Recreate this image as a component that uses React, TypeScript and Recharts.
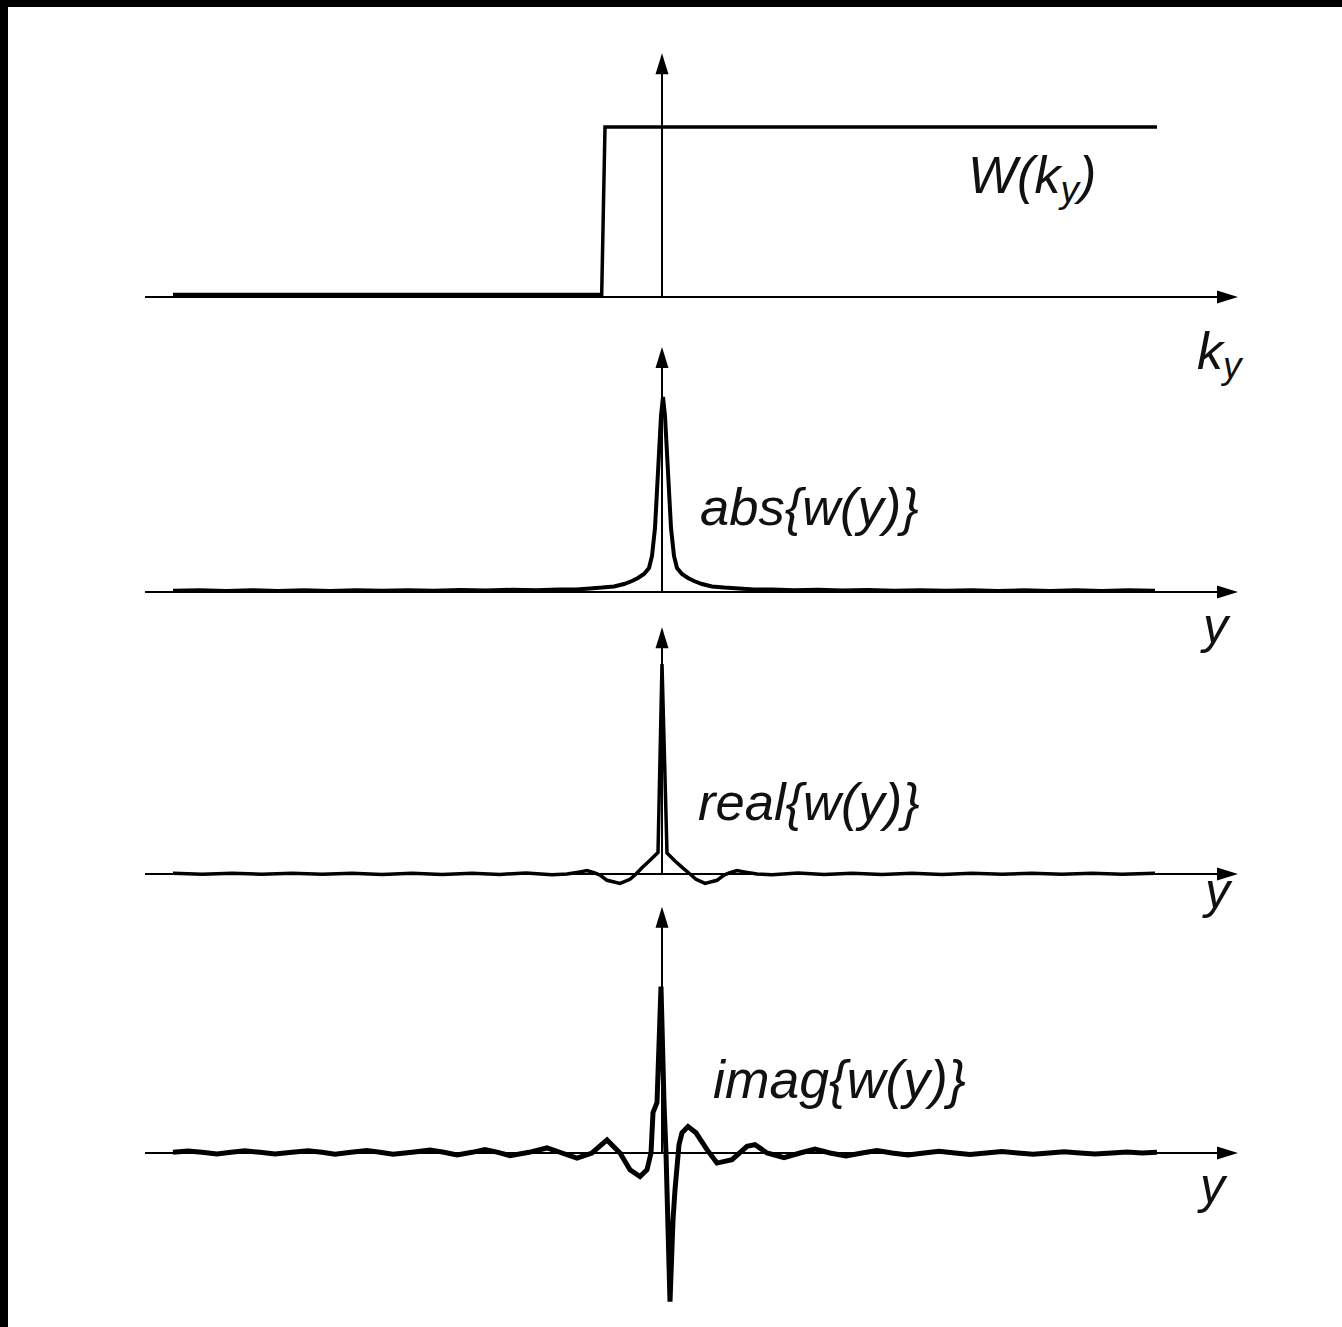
import { Line, LineChart, ReferenceLine, XAxis, YAxis } from "recharts";

// shared horizontal range (1 unit = 100 px on screen)
const X_DOMAIN: [number, number] = [-5.17, 5.76];

// W(ky): one-sided k-space window
const W_KY: [number, number][] = [
  [-4.89, 0.015], [-0.603, 0.015], [-0.57, 1.0], [4.95, 1.0],
];

// abs{w(y)}
const ABS_W: [number, number][] = [
  [-4.89, 0.006], [-4.62, 0.009], [-4.36, 0.005], [-4.1, 0.009], [-3.84, 0.005],
  [-3.58, 0.009], [-3.32, 0.005], [-3.06, 0.009], [-2.8, 0.006], [-2.54, 0.009],
  [-2.28, 0.006], [-2.02, 0.01], [-1.76, 0.007], [-1.5, 0.011], [-1.26, 0.009],
  [-1.04, 0.013], [-0.86, 0.013], [-0.72, 0.018], [-0.6, 0.022], [-0.48, 0.028],
  [-0.38, 0.04], [-0.3, 0.055], [-0.24, 0.07], [-0.18, 0.09], [-0.13, 0.12],
  [-0.1, 0.18], [-0.07, 0.32], [-0.04, 0.6], [-0.01, 0.88], [0.01, 0.975],
  [0.03, 0.88], [0.06, 0.6], [0.09, 0.32], [0.12, 0.18], [0.15, 0.12],
  [0.2, 0.09], [0.26, 0.07], [0.32, 0.055], [0.4, 0.04], [0.5, 0.028],
  [0.62, 0.022], [0.77, 0.018], [0.92, 0.013], [1.1, 0.013], [1.32, 0.009],
  [1.56, 0.011], [1.8, 0.007], [2.06, 0.01], [2.32, 0.006], [2.58, 0.009],
  [2.84, 0.006], [3.1, 0.009], [3.36, 0.005], [3.62, 0.009], [3.88, 0.005],
  [4.14, 0.009], [4.4, 0.005], [4.66, 0.009], [4.93, 0.006],
];

// real{w(y)}
const REAL_W: [number, number][] = [
  [-4.89, 0.003], [-4.6, -0.001], [-4.3, 0.003], [-4.0, -0.001], [-3.7, 0.003],
  [-3.4, -0.001], [-3.1, 0.003], [-2.8, -0.002], [-2.5, 0.003], [-2.2, -0.002],
  [-1.9, 0.004], [-1.62, -0.002], [-1.36, 0.005], [-1.1, -0.003], [-0.95, 0.0],
  [-0.82, 0.01], [-0.75, 0.016], [-0.68, 0.006], [-0.62, -0.005], [-0.55, -0.03],
  [-0.42, -0.045], [-0.32, -0.025], [-0.26, 0.0], [-0.2, 0.03], [-0.12, 0.065],
  [-0.04, 0.102], [0.0, 1.0], [0.05, 0.1], [0.13, 0.062], [0.21, 0.028],
  [0.28, 0.0], [0.34, -0.025], [0.43, -0.045], [0.55, -0.03], [0.62, -0.005],
  [0.68, 0.006], [0.75, 0.016], [0.82, 0.01], [0.95, 0.0], [1.1, -0.003],
  [1.36, 0.005], [1.62, -0.002], [1.9, 0.004], [2.2, -0.002], [2.5, 0.003],
  [2.8, -0.002], [3.1, 0.003], [3.4, -0.001], [3.7, 0.003], [4.0, -0.001],
  [4.3, 0.003], [4.6, -0.001], [4.93, 0.003],
];

// imag{w(y)}
const IMAG_W: [number, number][] = [
  [-4.89, 0.004], [-4.74, 0.012], [-4.6, 0.004], [-4.45, -0.006], [-4.31, 0.004],
  [-4.17, 0.013], [-4.02, 0.004], [-3.87, -0.006], [-3.7, 0.004], [-3.54, 0.014],
  [-3.4, 0.004], [-3.27, -0.007], [-3.11, 0.004], [-2.95, 0.015], [-2.82, 0.004],
  [-2.69, -0.008], [-2.5, 0.004], [-2.32, 0.017], [-2.18, 0.004], [-2.05, -0.011],
  [-1.9, 0.004], [-1.77, 0.021], [-1.64, 0.004], [-1.52, -0.016], [-1.33, 0.004],
  [-1.15, 0.03], [-1.0, 0.0], [-0.85, -0.03], [-0.7, 0.0], [-0.55, 0.078],
  [-0.42, 0.0], [-0.32, -0.1], [-0.22, -0.14], [-0.15, -0.1], [-0.11, 0.0],
  [-0.09, 0.24], [-0.05, 0.3], [-0.01, 0.99], [0.02, 0.3], [0.04, 0.0],
  [0.08, -0.885], [0.11, -0.4], [0.13, -0.22], [0.17, 0.05], [0.2, 0.12],
  [0.26, 0.157], [0.34, 0.12], [0.45, 0.02], [0.55, -0.06], [0.7, -0.04],
  [0.85, 0.04], [0.93, 0.05], [1.05, 0.0], [1.22, -0.028], [1.38, 0.0],
  [1.53, 0.023], [1.68, 0.0], [1.84, -0.018], [2.0, 0.0], [2.15, 0.015],
  [2.3, 0.0], [2.46, -0.012], [2.62, 0.0], [2.77, 0.011], [2.93, 0.0],
  [3.08, -0.009], [3.24, 0.0], [3.4, 0.009], [3.56, 0.0], [3.71, -0.008],
  [3.87, 0.0], [4.02, 0.008], [4.18, 0.0], [4.33, -0.006], [4.5, 0.0],
  [4.65, 0.006], [4.8, 0.0], [4.95, 0.004],
];

const INK = "#000";
const FONT = "'Liberation Sans', Arial, Helvetica, sans-serif";

function ArrowAxis(p: any) {
  const { x1, y1, x2, y2 } = p;
  const dx = x2 - x1;
  const dy = y2 - y1;
  const len = Math.hypot(dx, dy) || 1;
  const ux = dx / len;
  const uy = dy / len;
  const L = 21;
  const H = 6.5;
  const bx = x2 - ux * L;
  const by = y2 - uy * L;
  const px = -uy;
  const py = ux;
  return (
    <g>
      <line x1={x1} y1={y1} x2={bx + ux * 2} y2={by + uy * 2} stroke={INK} strokeWidth={2} />
      <polygon
        points={`${x2},${y2} ${bx + px * H},${by + py * H} ${bx - px * H},${by - py * H}`}
        fill={INK}
      />
    </g>
  );
}

function Panel({
  top,
  height,
  yDomain,
  tip,
  points,
  strokeWidth,
}: {
  top: number;
  height: number;
  yDomain: [number, number];
  tip: number;
  points: [number, number][];
  strokeWidth: number;
}) {
  const rows = points.map(([x, v]) => ({ x, v }));
  return (
    <div style={{ position: "absolute", left: 0, top }}>
      <LineChart
        width={1342}
        height={height}
        margin={{ top: 0, right: 104, bottom: 0, left: 145 }}
        style={{ overflow: "visible" }}
      >
        <XAxis type="number" dataKey="x" domain={X_DOMAIN} hide allowDataOverflow />
        <YAxis type="number" domain={yDomain} hide allowDataOverflow width={0} />
        <ReferenceLine
          ifOverflow="visible"
          segment={[{ x: X_DOMAIN[0], y: 0 }, { x: X_DOMAIN[1], y: 0 }]}
          shape={ArrowAxis}
        />
        <ReferenceLine
          ifOverflow="visible"
          segment={[{ x: 0, y: 0 }, { x: 0, y: tip }]}
          shape={ArrowAxis}
        />
        <Line
          data={rows}
          dataKey="v"
          type="linear"
          stroke={INK}
          strokeWidth={strokeWidth}
          strokeLinejoin="miter"
          dot={false}
          activeDot={false}
          isAnimationActive={false}
        />
      </LineChart>
    </div>
  );
}

export default function App() {
  const text = { fontFamily: FONT, fontStyle: "italic" as const, fill: "#111" };
  return (
    <div
      style={{
        position: "absolute",
        left: 0,
        top: 0,
        width: 1342,
        height: 1327,
        background: "#000",
        overflow: "hidden",
      }}
    >
      <div style={{ position: "absolute", left: 8, top: 7, right: 0, bottom: 0, background: "#fff" }} />
      <Panel top={41.5} height={272} yDomain={[-0.1, 1.5]} tip={1.434} points={W_KY} strokeWidth={3.5} />
      <Panel top={342} height={270} yDomain={[-0.1, 1.25]} tip={1.225} points={ABS_W} strokeWidth={4} />
      <Panel top={621.5} height={283.5} yDomain={[-0.15, 1.2]} tip={1.175} points={REAL_W} strokeWidth={3.5} />
      <Panel top={901.3} height={420} yDomain={[-1, 1.5]} tip={1.466} points={IMAG_W} strokeWidth={5} />
      <svg
        width={1342}
        height={1327}
        style={{ position: "absolute", left: 0, top: 0, pointerEvents: "none" }}
      >
        <text x={968} y={193} fontSize={52} {...text}>
          W(k<tspan fontSize={37} dy={9}>y</tspan><tspan dy={-9}>)</tspan>
        </text>
        <text x={1197} y={369} fontSize={52} {...text}>
          k<tspan fontSize={37} dy={9}>y</tspan>
        </text>
        <text x={700} y={525} fontSize={52.5} {...text}>abs{"{"}w(y){"}"}</text>
        <text x={698} y={820} fontSize={52.5} {...text}>real{"{"}w(y){"}"}</text>
        <text x={713} y={1098} fontSize={53.5} {...text}>imag{"{"}w(y){"}"}</text>
        <text x={1203} y={643} fontSize={50} {...text}>y</text>
        <text x={1205} y={908} fontSize={50} {...text}>y</text>
        <text x={1200} y={1203} fontSize={50} {...text}>y</text>
      </svg>
    </div>
  );
}
